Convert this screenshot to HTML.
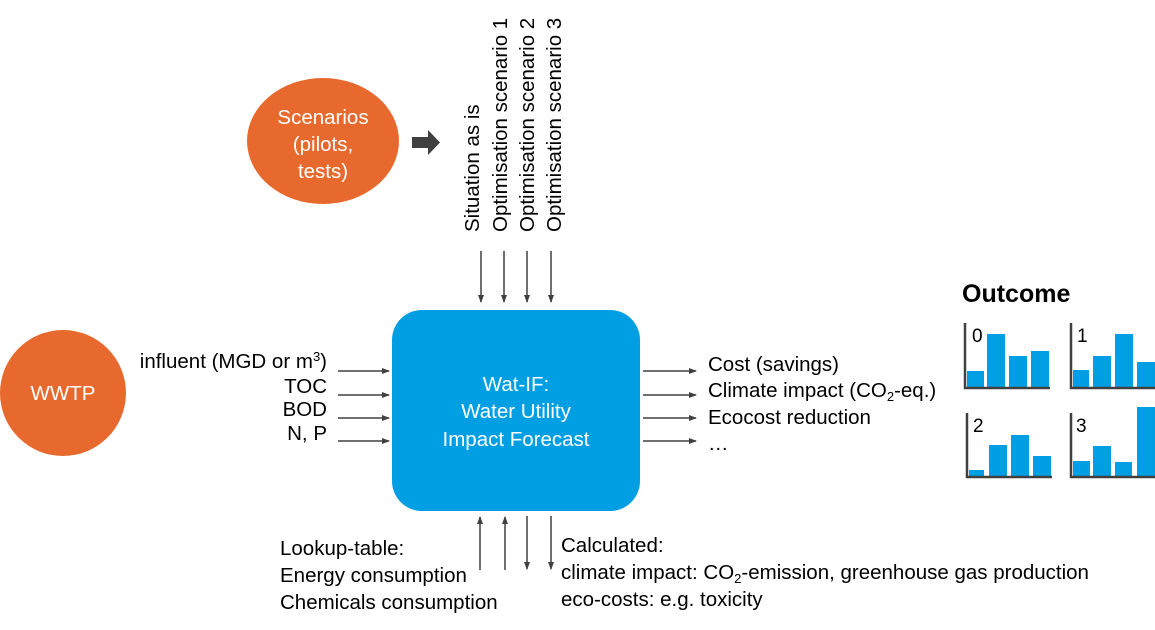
<!DOCTYPE html>
<html><head><meta charset="utf-8"><style>
html,body{margin:0;padding:0;background:#fff;}
svg{display:block;}
text{font-family:"Liberation Sans",sans-serif;}
</style></head><body>
<svg width="1155" height="630" viewBox="0 0 1155 630" xmlns="http://www.w3.org/2000/svg">
<defs>
<marker id="ah" markerWidth="8" markerHeight="8" refX="7" refY="4" orient="auto" markerUnits="userSpaceOnUse">
<path d="M0,1 L8,4 L0,7 Z" fill="#404040"/>
</marker>
</defs>
<ellipse cx="323" cy="141" rx="76" ry="63" fill="#e8692e"/>
<text x="323" y="124" font-size="20.5" fill="#fff" text-anchor="middle">Scenarios</text>
<text x="323" y="151" font-size="20.5" fill="#fff" text-anchor="middle">(pilots,</text>
<text x="323" y="178" font-size="20.5" fill="#fff" text-anchor="middle">tests)</text>
<path d="M412,137 L428,137 L428,130 L440,142.5 L428,155 L428,148 L412,148 Z" fill="#404040"/>
<g font-size="20.5" fill="#000">
<text transform="translate(479,232) rotate(-90)">Situation as is</text>
<text transform="translate(507,232) rotate(-90)">Optimisation scenario 1</text>
<text transform="translate(534,232) rotate(-90)">Optimisation scenario 2</text>
<text transform="translate(561,232) rotate(-90)">Optimisation scenario 3</text>
</g>
<g stroke="#404040" stroke-width="1.5" marker-end="url(#ah)">
<line x1="481" y1="251" x2="481" y2="302"/>
<line x1="504" y1="251" x2="504" y2="302"/>
<line x1="527" y1="251" x2="527" y2="302"/>
<line x1="551" y1="251" x2="551" y2="302"/>
<line x1="338" y1="371" x2="389" y2="371"/>
<line x1="338" y1="395" x2="389" y2="395"/>
<line x1="338" y1="418" x2="389" y2="418"/>
<line x1="338" y1="441" x2="389" y2="441"/>
<line x1="643" y1="371" x2="696" y2="371"/>
<line x1="643" y1="395" x2="696" y2="395"/>
<line x1="643" y1="418" x2="696" y2="418"/>
<line x1="643" y1="441" x2="696" y2="441"/>
<line x1="480" y1="570" x2="480" y2="517"/>
<line x1="505" y1="570" x2="505" y2="517"/>
<line x1="527" y1="516" x2="527" y2="569"/>
<line x1="551" y1="516" x2="551" y2="569"/>
</g>
<rect x="392" y="310" width="248" height="201" rx="30" fill="#009fe3"/>
<g font-size="20.5" fill="#fff" text-anchor="middle">
<text x="516" y="391">Wat-IF:</text>
<text x="516" y="418">Water Utility</text>
<text x="516" y="446">Impact Forecast</text>
</g>
<circle cx="63" cy="393" r="63" fill="#e8692e"/>
<text x="63" y="400" font-size="20.5" fill="#fff" text-anchor="middle">WWTP</text>
<g font-size="20.5" fill="#000" text-anchor="end">
<text x="327" y="368">influent (MGD or m<tspan font-size="13" dy="-7">3</tspan><tspan dy="7">)</tspan></text>
<text x="327" y="393">TOC</text>
<text x="327" y="416">BOD</text>
<text x="327" y="440">N, P</text>
</g>
<g font-size="20.5" fill="#000">
<text x="708" y="371">Cost (savings)</text>
<text x="708" y="397">Climate impact (CO<tspan font-size="13" dy="4">2</tspan><tspan dy="-4">-eq.)</tspan></text>
<text x="708" y="424">Ecocost reduction</text>
<text x="708" y="450">…</text>
<text x="280" y="555">Lookup-table:</text>
<text x="280" y="582">Energy consumption</text>
<text x="280" y="609">Chemicals consumption</text>
<text x="561" y="552">Calculated:</text>
<text x="561" y="579">climate impact: CO<tspan font-size="13" dy="4">2</tspan><tspan dy="-4">-emission, greenhouse gas production</tspan></text>
<text x="561" y="606">eco-costs: e.g. toxicity</text>
</g>
<text x="962" y="302" font-size="25" font-weight="bold" fill="#000">Outcome</text>
<g fill="#009fe3">
<rect x="967" y="371" width="17" height="16"/><rect x="987" y="334" width="18" height="53"/><rect x="1009" y="356" width="18" height="31"/><rect x="1031" y="351" width="18" height="36"/>
<rect x="1073" y="370" width="16" height="17"/><rect x="1093" y="356" width="18" height="31"/><rect x="1115" y="334" width="18" height="53"/><rect x="1137" y="362" width="18" height="25"/>
<rect x="969" y="470" width="15" height="6"/><rect x="989" y="445" width="18" height="31"/><rect x="1011" y="435" width="18" height="41"/><rect x="1033" y="456" width="18" height="20"/>
<rect x="1073" y="461" width="17" height="15"/><rect x="1093" y="446" width="18" height="30"/><rect x="1115" y="462" width="17" height="14"/><rect x="1137" y="407" width="18" height="69"/>
</g>
<g stroke="#404040" stroke-width="2.5" fill="none">
<path d="M965,323 V388 H1050"/>
<path d="M1071,323 V388 H1155"/>
<path d="M967,413 V477 H1052"/>
<path d="M1071,413 V477 H1155"/>
</g>
<g font-size="19" fill="#000">
<text x="972" y="342">0</text>
<text x="1077" y="342">1</text>
<text x="973" y="432">2</text>
<text x="1076" y="432">3</text>
</g>
</svg>
</body></html>
